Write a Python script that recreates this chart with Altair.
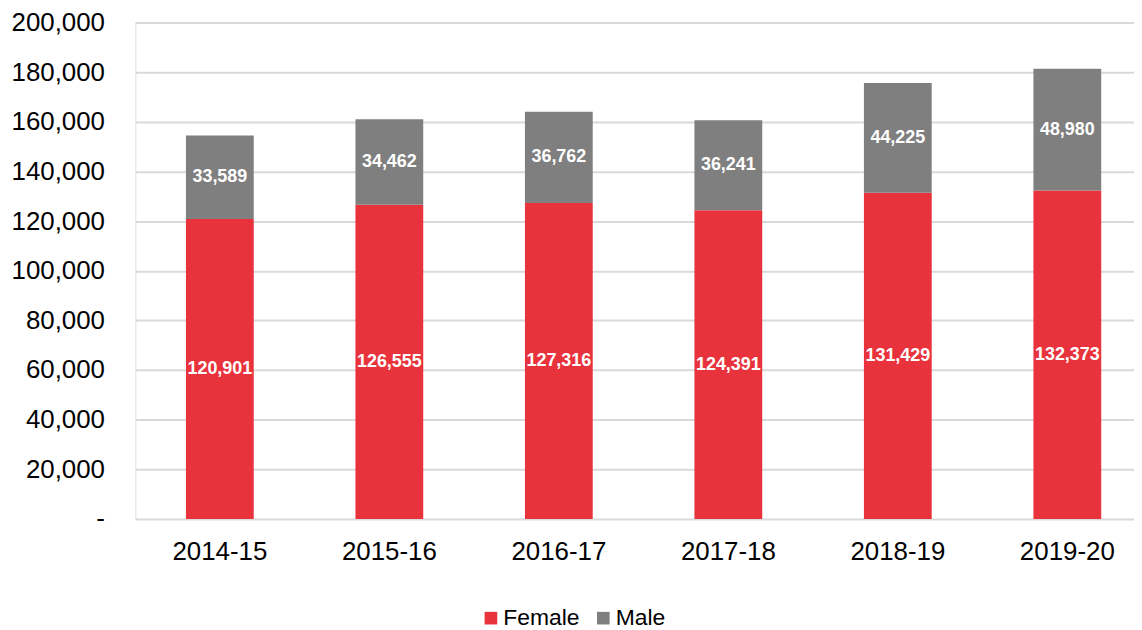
import altair as alt
import pandas as pd

years = ["2014-15", "2015-16", "2016-17", "2017-18", "2018-19", "2019-20"]
female = [120901, 126555, 127316, 124391, 131429, 132373]
male = [33589, 34462, 36762, 36241, 44225, 48980]
series = ["Female", "Male"]
colors = ["#E9333C", "#7F7F7F"]
y_ticks = [0, 20000, 40000, 60000, 80000, 100000, 120000, 140000, 160000, 180000, 200000]

rows = []
for i, yr in enumerate(years):
    rows.append({"year": yr, "sex": series[0], "value": female[i], "ord": 0})
    rows.append({"year": yr, "sex": series[1], "value": male[i], "ord": 1})
df = pd.DataFrame(rows)

FONT = "Liberation Sans"

base = alt.Chart(df).transform_stack(
    stack="value", groupby=["year"], as_=["v0", "v1"], sort=[alt.SortField("ord")]
).transform_calculate(mid="(datum.v0 + datum.v1) / 2")

x_enc = alt.X(
    "year:N",
    sort=years,
    title=None,
    scale=alt.Scale(paddingInner=0.6, paddingOuter=0.246, align=0.607),
    axis=alt.Axis(labelAngle=0, labelFontSize=26, labelFont=FONT, labelColor="#000000",
                  ticks=False, tickSize=0, domain=False, labelPadding=20, grid=False),
)

bars = base.mark_bar().encode(
    x=x_enc,
    y=alt.Y(
        "v0:Q",
        title=None,
        scale=alt.Scale(domain=[0, 200000], nice=False),
        axis=alt.Axis(values=y_ticks, labelFontSize=26, labelFont=FONT, labelColor="#000000",
                      ticks=False, tickSize=0, domain=False, labelPadding=31,
                      gridColor="#D9D9D9", gridWidth=2,
                      labelExpr="datum.value === 0 ? '-\u00a0\u00a0' : format(datum.value, ',')"),
    ),
    y2="v1:Q",
    color=alt.Color(
        "sex:N",
        scale=alt.Scale(domain=series, range=colors),
        title=None,
        legend=alt.Legend(orient="none", direction="horizontal", legendX=346, legendY=587,
                          symbolType="square", symbolSize=161, symbolStrokeWidth=0,
                          labelFontSize=23, labelFont=FONT, labelColor="#000000",
                          labelOffset=1, columnPadding=12, padding=0),
    ),
)

labels = base.mark_text(color="white", fontWeight="bold", fontSize=18, font=FONT).encode(
    x=alt.X("year:N", sort=years),
    y=alt.Y("mid:Q"),
    text=alt.Text("value:Q", format=","),
)

chart = alt.layer(bars, labels).properties(
    width=1004, height=499,
    autosize=alt.AutoSizeParams(type="none"),
    padding={"left": 128, "top": 13, "right": 0, "bottom": 112},
).configure_view(stroke=None).configure(font=FONT)

chart.save("out.html", embed_options={"renderer": "svg", "actions": False})
